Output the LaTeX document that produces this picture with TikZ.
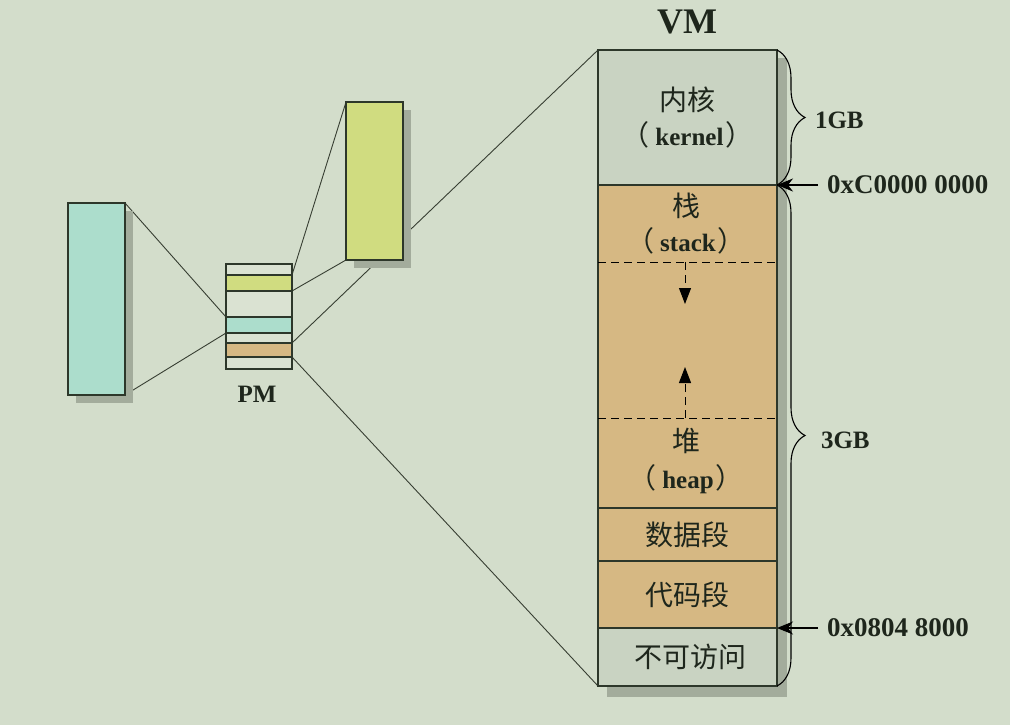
\documentclass[tikz,border=0pt]{standalone}
\usepackage{fontspec}
\setmainfont{Liberation Serif}
\newfontfamily\cjk{Noto Sans CJK SC}
\usepackage{xcolor}
\usepackage{tikz}
\usetikzlibrary{arrows.meta,decorations.pathreplacing}
\pgfdeclarelayer{links}
\pgfsetlayers{links,main}
\newcommand{\zhparen}[1]{{\cjk （}\hspace{6pt}{\rmfamily\bfseries\fontsize{25}{30}\selectfont #1}\hspace{2pt}{\cjk ）}}

\begin{document}
\begin{tikzpicture}[x=1pt,y=-1pt,
  every node/.style={inner sep=0pt, outer sep=0pt, text={rgb,255:red,30;green,38;blue,28}},
  box/.style={draw={rgb,255:red,45;green,55;blue,42}, line width=1.3pt},
  seg/.style={box, minimum width=179pt, align=center, font=\cjk\fontsize{28}{35}\selectfont},
  pmrow/.style={box, minimum width=66pt, fill={rgb,255:red,218;green,226;blue,210}},
  lbl/.style={font=\bfseries\fontsize{25}{30}\selectfont},
  addr/.style={font=\bfseries\fontsize{27}{30}\selectfont},
  link/.style={draw={rgb,255:red,55;green,62;blue,50}, line width=0.9pt},
  shade/.style={fill={rgb,255:red,163;green,172;blue,156}}]
\useasboundingbox (0,0) rectangle (1010,725);
\begin{pgfonlayer}{links}
\fill[fill={rgb,255:red,211;green,221;blue,203}] (0,0) rectangle (1010,725);
\end{pgfonlayer}

% left and middle blocks
\fill[shade] (76,211) rectangle (133,403);
\node[box, fill={rgb,255:red,172;green,221;blue,204}, minimum width=57pt, minimum height=192pt] (pa) at (96.5,299) {};
\fill[shade] (354,110) rectangle (411,268);
\node[box, fill={rgb,255:red,208;green,220;blue,128}, minimum width=57pt, minimum height=158pt] (pb) at (374.5,181) {};

% physical memory
\node[pmrow, minimum height=11pt] (pm1) at (259,269.5) {};
\node[pmrow, minimum height=16pt, fill={rgb,255:red,208;green,220;blue,128}] (pm-y) at (259,283) {};
\node[pmrow, minimum height=26pt] (pm2) at (259,304) {};
\node[pmrow, minimum height=16pt, fill={rgb,255:red,172;green,221;blue,204}] (pm-c) at (259,325) {};
\node[pmrow, minimum height=10pt] (pm3) at (259,338) {};
\node[pmrow, minimum height=14pt, fill={rgb,255:red,214;green,184;blue,131}] (pm-o) at (259,350) {};
\node[pmrow, minimum height=12pt] (pm4) at (259,363) {};
\node[lbl] (pm) at (257,394) {PM};

% virtual memory
\node[lbl, font=\bfseries\fontsize{36}{40}\selectfont] (vm) at (687,22) {VM};
\fill[shade] (607,58) rectangle (787,697);
\node[seg, minimum height=135pt, fill={rgb,255:red,201;green,211;blue,194}] (vm-kernel) at (687.5,117.5) {内核\\\zhparen{kernel}};
\node[seg, minimum height=323pt, fill={rgb,255:red,214;green,184;blue,131}] (vm-dyn) at (687.5,346.5) {};
\node[seg, minimum height=53pt, fill={rgb,255:red,214;green,184;blue,131}] (vm-data) at (687.5,534.5) {数据段};
\node[seg, minimum height=67pt, fill={rgb,255:red,214;green,184;blue,131}] (vm-code) at (687.5,594.5) {代码段};
\node[seg, minimum height=58pt, fill={rgb,255:red,201;green,211;blue,194}] (vm-none) at (687.5,657) {\hspace{5pt}不可访问};
\node[align=center, font=\cjk\fontsize{28}{35}\selectfont] (stack) at (686,223.5) {栈\\\zhparen{stack}};
\node[align=center, font=\cjk\fontsize{28}{37}\selectfont] (heap) at (686,460.5) {堆\\\zhparen{heap}};

\coordinate (stk-l) at (598,262);
\coordinate (stk-r) at (777,262);
\coordinate (hp-l) at (598,418);
\coordinate (hp-r) at (777,418);
\coordinate (stk-mid) at (685,262);
\coordinate (stk-end) at (685,304);
\coordinate (hp-mid) at (685,418);
\coordinate (hp-end) at (685,367);
\draw[line width=1pt, dash pattern=on 8pt off 5pt] (stk-l) -- (stk-r);
\draw[line width=1pt, dash pattern=on 8pt off 5pt] (hp-l) -- (hp-r);
\draw[line width=1pt, dash pattern=on 8pt off 5pt, -{Triangle[length=16pt,width=12pt]}] (stk-mid) -- (stk-end);
\draw[line width=1pt, dash pattern=on 8pt off 5pt, -{Triangle[length=16pt,width=12pt]}] (hp-mid) -- (hp-end);

% sizes and addresses
\draw[line width=1.1pt, decorate, decoration={brace, amplitude=28pt}] (vm-kernel.north east) -- (vm-kernel.south east);
\draw[line width=1.1pt, decorate, decoration={brace, amplitude=28pt}] (vm-dyn.north east) -- (vm-none.south east);
\node[lbl, anchor=west] (gb1) at (815,120) {1GB};
\node[lbl, anchor=west] (gb3) at (821,440) {3GB};
\node[addr, anchor=west] (hi) at (827,185) {0xC0000 0000};
\node[addr, anchor=west] (lo) at (827,628) {0x0804 8000};
\draw[line width=1.1pt, -{Stealth[length=16pt,width=13pt,inset=5pt]}] ([xshift=-9pt]hi.west) -- (vm-dyn.north east);
\draw[line width=1.1pt, -{Stealth[length=16pt,width=13pt,inset=5pt]}] ([xshift=-9pt]lo.west) -- (vm-none.north east);

% mappings
\begin{pgfonlayer}{links}
\draw[link] (pa.north east) -- (pm-c.north west);
\draw[link] (pa.south east) -- (pm-c.south west);
\draw[link] (pb.north west) -- (pm-y.north east);
\draw[link] (pb.south west) -- (pm-y.south east);
\draw[link] (vm-kernel.north west) -- (pm-o.north east);
\draw[link] (vm-none.south west) -- (pm-o.south east);
\end{pgfonlayer}
\end{tikzpicture}
\end{document}
